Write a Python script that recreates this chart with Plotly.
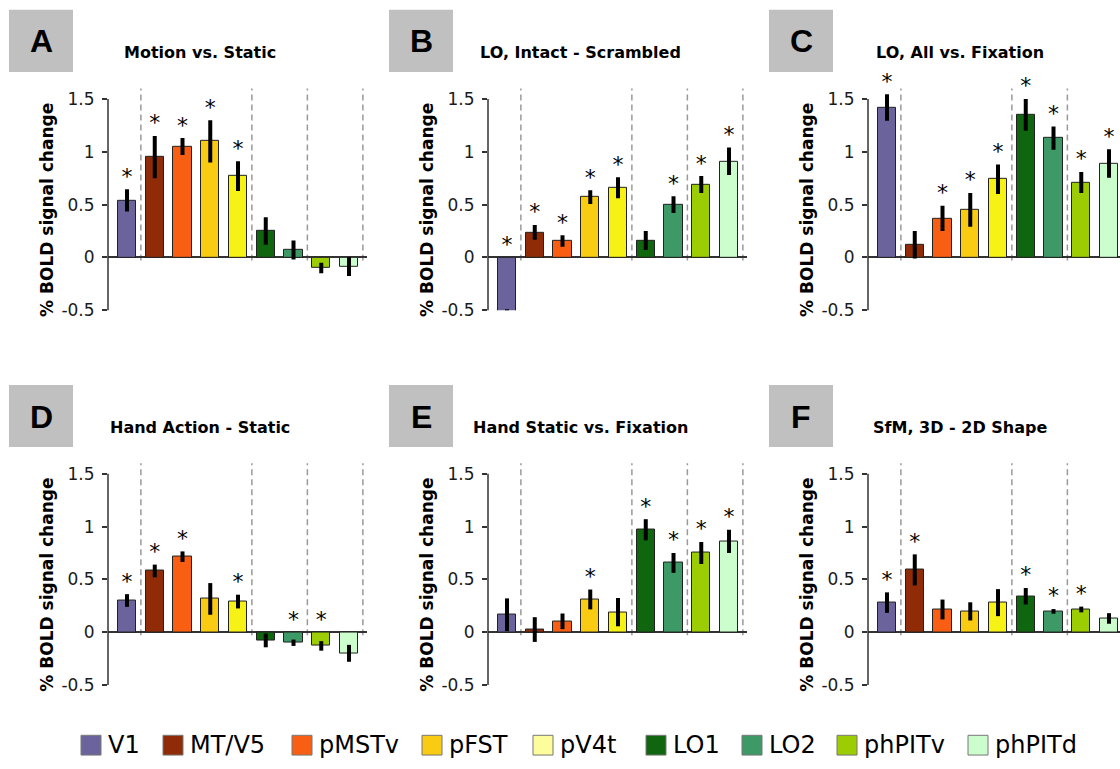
import plotly.graph_objects as go

# ---------------- data ----------------
regions = ["V1", "MT/V5", "pMSTv", "pFST", "pV4t", "LO1", "LO2", "phPITv", "phPITd"]
bar_colors = ["#6a639c", "#8f2b07", "#f95f12", "#f9cb12", "#f6f215",
              "#10650f", "#3d9a66", "#9ccc02", "#ccfdcc"]
legend_colors = ["#6a639c", "#8f2b07", "#f95f12", "#f9cb12", "#fdfd9c",
                 "#10650f", "#3d9a66", "#9ccc02", "#ccfdcc"]

panel_letters = ["A", "B", "C", "D", "E", "F"]
panel_titles = ["Motion vs. Static", "LO, Intact - Scrambled", "LO, All vs. Fixation",
                "Hand Action - Static", "Hand Static vs. Fixation", "SfM, 3D - 2D Shape"]

a_values = [0.54, 0.95, 1.05, 1.10, 0.77, 0.25, 0.07, -0.10, -0.085]
a_errors = [0.105, 0.20, 0.08, 0.20, 0.14, 0.13, 0.09, 0.05, 0.09]
a_sig = [1, 1, 1, 1, 1, 0, 0, 0, 0]

b_values = [-0.60, 0.237, 0.156, 0.57, 0.66, 0.16, 0.50, 0.69, 0.91]
b_errors = [0.11, 0.07, 0.055, 0.065, 0.10, 0.09, 0.08, 0.08, 0.13]
b_sig = [1, 1, 1, 1, 1, 0, 1, 1, 1]

c_values = [1.42, 0.12, 0.37, 0.45, 0.74, 1.35, 1.13, 0.71, 0.89]
c_errors = [0.125, 0.13, 0.12, 0.16, 0.14, 0.15, 0.11, 0.10, 0.135]
c_sig = [1, 0, 1, 1, 1, 1, 1, 1, 1]

d_values = [0.30, 0.58, 0.715, 0.315, 0.29, -0.078, -0.10, -0.13, -0.20]
d_errors = [0.06, 0.06, 0.05, 0.15, 0.065, 0.065, 0.03, 0.045, 0.08]
d_sig = [1, 1, 1, 0, 1, 0, 1, 1, 0]

e_values = [0.165, 0.025, 0.103, 0.31, 0.19, 0.97, 0.656, 0.75, 0.86]
e_errors = [0.155, 0.117, 0.074, 0.094, 0.134, 0.10, 0.094, 0.104, 0.11]
e_sig = [0, 0, 0, 1, 0, 1, 1, 1, 1]

f_values = [0.28, 0.59, 0.215, 0.197, 0.28, 0.34, 0.197, 0.215, 0.13]
f_errors = [0.097, 0.147, 0.094, 0.086, 0.128, 0.078, 0.022, 0.027, 0.05]
f_sig = [1, 1, 0, 0, 0, 1, 1, 1, 0]

y_tick_vals = [-0.5, 0, 0.5, 1, 1.5]
y_tick_text = ["-0.5", "0", "0.5", "1", "1.5"]
group_dividers = [0.5, 4.5, 6.5, 8.5]

panels = [
    (a_values, a_errors, a_sig),
    (b_values, b_errors, b_sig),
    (c_values, c_errors, c_sig),
    (d_values, d_errors, d_sig),
    (e_values, e_errors, e_sig),
    (f_values, f_errors, f_sig),
]

# ---------------- layout constants ----------------
W, H = 1120, 769
col_left_px = [108, 488, 868]
row_offset_px = [0, 380]
px_per_unit = 27.75
x_left = -0.685
plot_w_px = 259
y_range = [-0.5, 1.72]
row_domains = [[0.5913, 0.9001], [0.0975, 0.4064]]
FONT = "DejaVu Sans"

fig = go.Figure()
layout_axes = {}
shapes = []
annotations = []

for p, (vals, errs, sig) in enumerate(panels):
    row, col = divmod(p, 3)
    n = p + 1
    xa = "x" if n == 1 else f"x{n}"
    ya = "y" if n == 1 else f"y{n}"
    left = col_left_px[col]
    right = min(W, left + plot_w_px)
    x_right = x_left + (right - left) / px_per_unit

    xs = list(range(len(regions)))
    fig.add_trace(go.Bar(
        x=xs, y=vals, width=0.66,
        marker=dict(color=bar_colors, line=dict(color="#222222", width=1)),
        error_y=dict(type="data", array=errs, visible=True, thickness=4,
                     width=0, color="#000000"),
        xaxis=xa, yaxis=ya, showlegend=False, hoverinfo="skip",
    ))
    sx = [i for i in xs if sig[i]]
    sy = [max(0, vals[i] + errs[i]) + 0.105 for i in xs if sig[i]]
    fig.add_trace(go.Scatter(
        x=sx, y=sy, mode="text", text=["*"] * len(sx),
        textposition="middle center",
        textfont=dict(family=FONT, size=22, color="#000000"),
        cliponaxis=False, xaxis=xa, yaxis=ya, showlegend=False, hoverinfo="skip",
    ))

    xkey = "xaxis" if n == 1 else f"xaxis{n}"
    ykey = "yaxis" if n == 1 else f"yaxis{n}"
    layout_axes[xkey] = dict(
        domain=[left / W, right / W], range=[x_left, x_right], anchor=ya,
        showticklabels=False, showgrid=False, zeroline=False, showline=False,
        ticks="", fixedrange=True,
    )
    layout_axes[ykey] = dict(
        domain=row_domains[row], range=y_range, anchor=xa,
        tickvals=y_tick_vals, ticktext=y_tick_text, ticks="outside",
        ticklen=5, tickwidth=1.5, tickcolor="#333333", ticklabelstandoff=4,
        tickfont=dict(family=FONT, size=17, color="#1a1a1a"),
        showgrid=False, showline=False, zeroline=True,
        zerolinecolor="#333333", zerolinewidth=1.5, fixedrange=True,
    )

    # y axis line from -0.5 to 1.5
    shapes.append(dict(
        type="line", xref=f"{xa} domain", yref=f"{ya} domain",
        x0=0, x1=0, y0=0,
        y1=(y_tick_vals[-1] - y_range[0]) / (y_range[1] - y_range[0]),
        line=dict(color="#333333", width=1.5), layer="above",
    ))
    # dashed group dividers
    for d in group_dividers:
        if d < x_right:
            shapes.append(dict(
                type="line", xref=xa, yref=ya, x0=d, x1=d, y0=-0.03, y1=1.6,
                line=dict(color="#999999", width=1.5, dash="6px,4px"), layer="below",
            ))

    top = row_offset_px[row]
    # letter box
    shapes.append(dict(
        type="rect", xref="paper", yref="paper",
        x0=(left - 99) / W, x1=(left - 35) / W,
        y0=1 - (top + 73) / H, y1=1 - (top + 10) / H,
        fillcolor="#c0c0c0", line=dict(width=0), layer="below",
    ))
    annotations.append(dict(
        text=f"<b>{panel_letters[p]}</b>", xref="paper", yref="paper",
        x=(left - 67) / W, y=1 - (top + 42) / H, showarrow=False,
        xanchor="center", yanchor="middle",
        font=dict(family="Liberation Sans", size=32, color="#000000"),
    ))
    annotations.append(dict(
        text=f"<b>{panel_titles[p]}</b>", xref="paper", yref="paper",
        x=(left + 92) / W, y=1 - (top + 53) / H, showarrow=False,
        xanchor="center", yanchor="middle",
        font=dict(family=FONT, size=16, color="#000000"),
    ))
    annotations.append(dict(
        text="<b>% BOLD signal change</b>", xref="paper", yref=ya,
        x=(left - 61) / W, y=0.45, showarrow=False, textangle=-90,
        xanchor="center", yanchor="middle",
        font=dict(family=FONT, size=17, color="#000000"),
    ))

# ---------------- manual legend ----------------
legend_x_px = [81, 163, 292, 422, 533, 646, 742, 837, 968]
for i, name in enumerate(regions):
    x0 = legend_x_px[i]
    shapes.append(dict(
        type="rect", xref="paper", yref="paper",
        x0=x0 / W, x1=(x0 + 20) / W, y0=1 - 765 / H, y1=1 - 745 / H,
        fillcolor=legend_colors[i], line=dict(color="#777777", width=1),
    ))
    annotations.append(dict(
        text=name, xref="paper", yref="paper", x=(x0 + 25) / W, y=1 - 755 / H,
        showarrow=False, xanchor="left", yanchor="middle",
        font=dict(family=FONT, size=24, color="#000000"),
    ))

fig.update_layout(
    width=W, height=H, margin=dict(l=0, r=0, t=0, b=0),
    paper_bgcolor="#ffffff", plot_bgcolor="#ffffff",
    shapes=shapes, annotations=annotations, showlegend=False,
    bargap=0, **layout_axes,
)

fig.write_html(
    "out.html",
    config={"displayModeBar": False},
    post_script="document.body.style.margin='0';document.body.style.overflow='hidden';",
)
